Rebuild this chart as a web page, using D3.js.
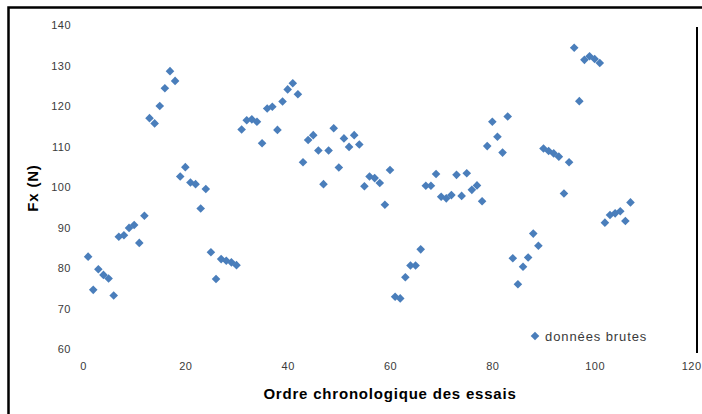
<!DOCTYPE html>
<html>
<head>
<meta charset="utf-8">
<script src="https://cdn.jsdelivr.net/npm/d3@7"></script>
<style>
  html, body { margin: 0; padding: 0; background: #fff; }
  svg { display: block; font-family: "Liberation Sans", Arial, sans-serif; }
</style>
</head>
<body>
<svg id="chart" width="702" height="414"></svg>
<script>
// Test order (x) and measured force Fx in N (y)
const essai = d3.range(1, 108);
const fx = [
  82.8, 74.6, 79.7, 78.3, 77.4, 73.2, 87.7, 88.1, 89.9, 90.6,
  86.2, 92.9, 117.0, 115.7, 120.0, 124.4, 128.6, 126.2, 102.6, 104.9,
  101.1, 100.7, 94.7, 99.5, 83.9, 77.3, 82.2, 81.8, 81.4, 80.7,
  114.2, 116.5, 116.7, 116.1, 110.8, 119.4, 119.8, 114.1, 121.1, 124.1,
  125.6, 122.9, 106.1, 111.6, 112.8, 109.0, 100.7, 109.0, 114.5, 104.8,
  112.0, 109.9, 112.8, 110.5, 100.2, 102.6, 102.2, 101.0, 95.6, 104.2,
  72.9, 72.5, 77.7, 80.6, 80.6, 84.6, 100.3, 100.3, 103.2, 97.6,
  97.2, 98.0, 103.0, 97.8, 103.4, 99.3, 100.4, 96.5, 110.1, 116.1,
  112.4, 108.5, 117.4, 82.4, 76.0, 80.3, 82.6, 88.5, 85.5, 109.5,
  108.9, 108.3, 107.5, 98.4, 106.1, 134.4, 121.2, 131.4, 132.3, 131.6,
  130.6, 91.2, 93.1, 93.5, 94.0, 91.6, 96.2
];
const xTicks = [0, 20, 40, 60, 80, 100, 120];
const yTicks = [60, 70, 80, 90, 100, 110, 120, 130, 140];
const seriesName = "données brutes";
const xTitle = "Ordre chronologique des essais";
const yTitle = "Fx (N)";

const color = "#4A7EBB";
const svg = d3.select("#chart");

const x = d3.scaleLinear().domain([0, 120]).range([83, 697]);
const y = d3.scaleLinear().domain([60, 140]).range([349, 25]);

// Outer chart frame (continues past the right and bottom edges)
svg.append("rect")
  .attr("x", 8.5).attr("y", 7.5)
  .attr("width", 720).attr("height", 430)
  .attr("fill", "none").attr("stroke", "#000").attr("stroke-width", 2.5);

// Right-hand axis line
svg.append("line")
  .attr("x1", x(120)).attr("x2", x(120))
  .attr("y1", 27).attr("y2", 353)
  .attr("stroke", "#000").attr("stroke-width", 2);

// Axes: labels only, no domain lines or tick marks
const yAxis = d3.axisLeft(y).tickValues(yTicks).tickSize(0).tickPadding(0);
const gy = svg.append("g").attr("transform", "translate(71,0)").call(yAxis);
const xAxis = d3.axisBottom(x).tickValues(xTicks).tickSize(0).tickPadding(0);
const gx = svg.append("g").attr("transform", "translate(0,362)").call(xAxis);
[gy, gx].forEach(g => {
  g.select(".domain").remove();
  g.selectAll("text")
    .attr("fill", "#3a3a3a")
    .style("font-size", "11px")
    .style("letter-spacing", "0.5px")
    .style("font-family", "'Liberation Sans', Arial, sans-serif");
});
// Last x label sits against the right edge of the frame
gx.selectAll(".tick")
  .filter(d => d === 120)
  .select("text")
  .attr("text-anchor", "end")
  .attr("dx", 4);

// Axis titles
svg.append("text")
  .attr("x", 390).attr("y", 399)
  .attr("text-anchor", "middle")
  .style("font-size", "15px").style("font-weight", "bold")
  .style("letter-spacing", "0.8px")
  .attr("fill", "#000")
  .text(xTitle);

svg.append("text")
  .attr("transform", "translate(38,188) rotate(-90)")
  .attr("text-anchor", "middle")
  .style("font-size", "15px").style("font-weight", "bold")
  .style("letter-spacing", "0.8px")
  .attr("fill", "#000")
  .text(yTitle);

// Diamond marker path
const r = 4.3;
const diamond = `M0,${-r}L${r},0L0,${r}L${-r},0Z`;

svg.append("g")
  .selectAll("path")
  .data(essai.map((e, i) => ({ e, v: fx[i] })))
  .join("path")
  .attr("d", diamond)
  .attr("transform", d => `translate(${x(d.e)},${y(d.v)})`)
  .attr("fill", color);

// Legend
const lg = svg.append("g").attr("transform", "translate(535,336)");
lg.append("path").attr("d", diamond).attr("fill", color);
lg.append("text")
  .attr("x", 10).attr("y", 4.5)
  .style("font-size", "13px")
  .style("letter-spacing", "0.9px")
  .attr("fill", "#3a3a3a")
  .text(seriesName);
</script>
</body>
</html>
